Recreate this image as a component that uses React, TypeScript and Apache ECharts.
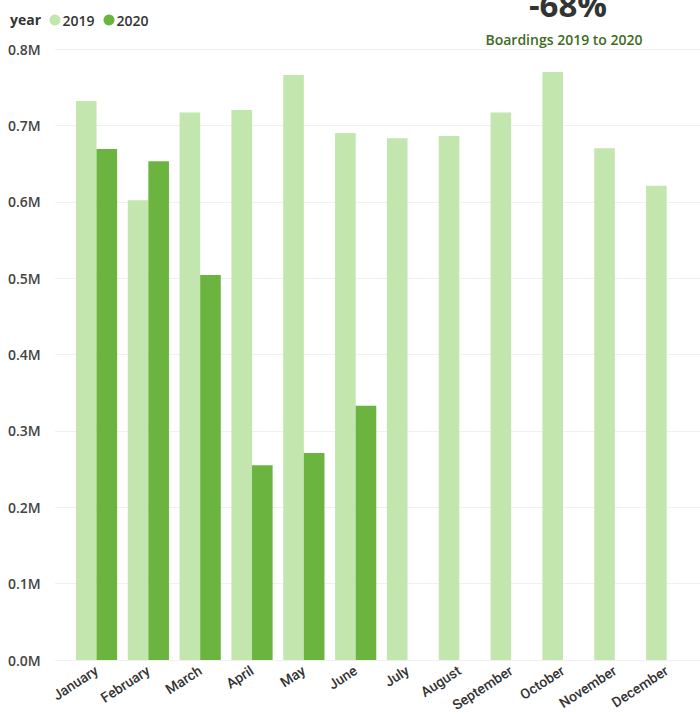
import React, { useEffect, useRef } from "react";
import * as echarts from "echarts";

const months = ["January", "February", "March", "April", "May", "June", "July", "August", "September", "October", "November", "December"];
const boardings2019 = [732000, 602000, 717000, 720000, 766000, 690000, 683000, 686000, 717000, 770000, 670000, 621000];
const boardings2020 = [669000, 653000, 504000, 255000, 271000, 333000, null, null, null, null, null, null];
const yTicks = [0, 100000, 200000, 300000, 400000, 500000, 600000, 700000, 800000];
const kpiText = "-68%";
const kpiLabel = "Boardings 2019 to 2020";

const FONT = "'Open Sans', 'Noto Sans', sans-serif";
const AXFONT = "Roboto, 'Open Sans', sans-serif";

export default function App() {
  const ref = useRef<HTMLDivElement>(null);
  useEffect(() => {
    if (!ref.current) return;
    const chart = echarts.init(ref.current, null, { renderer: "svg" });
    const yMax = yTicks[yTicks.length - 1];
    chart.setOption({
      animation: false,
      backgroundColor: "#ffffff",
      textStyle: { fontFamily: FONT },
      title: {
        text: "year",
        left: 10,
        top: 12,
        padding: 0,
        textStyle: { fontSize: 14, fontWeight: 700, color: "#333333", fontFamily: FONT },
      },
      legend: {
        left: 49.5,
        top: 13,
        icon: "circle",
        itemWidth: 11,
        itemHeight: 11,
        itemGap: 9,
        padding: 0,
        textStyle: { fontSize: 14, fontWeight: 600, color: "#333333", fontFamily: FONT, padding: [0, 0, 0, -3] },
        data: ["2019", "2020"],
      },
      graphic: [
        {
          type: "text",
          x: 568,
          y: 4,
          style: {
            text: kpiText,
            fill: "#333333",
            font: `700 33px ${FONT}`,
            textAlign: "center",
            textVerticalAlign: "middle",
          },
        },
        {
          type: "text",
          x: 564,
          y: 39,
          style: {
            text: kpiLabel,
            fill: "#3e6b22",
            font: `600 14px ${FONT}`,
            textAlign: "center",
            textVerticalAlign: "middle",
          },
        },
      ],
      grid: [
        { left: 70.6, right: 7.4, top: 49, bottom: 56, containLabel: false, outerBoundsMode: "none" },
        { left: 55, right: 0, top: 49, bottom: 56, containLabel: false, outerBoundsMode: "none" },
      ],
      xAxis: [
        {
          type: "category",
          gridIndex: 0,
          data: months,
          axisLine: { show: false },
          axisTick: { show: false },
          axisLabel: {
            rotate: 33,
            interval: 0,
            margin: 9,
            fontSize: 14,
            fontWeight: 500,
            color: "#333333",
            fontFamily: AXFONT,
          },
        },
        {
          type: "value",
          gridIndex: 1,
          min: 0,
          max: 1,
          show: false,
        },
      ],
      yAxis: [
        {
          type: "value",
          gridIndex: 0,
          min: 0,
          max: yMax,
          interval: 100000,
          axisLabel: { show: false },
          splitLine: { show: false },
          axisLine: { show: false },
          axisTick: { show: false },
        },
        {
          type: "value",
          gridIndex: 1,
          min: 0,
          max: yMax,
          interval: 100000,
          axisLine: { show: false },
          axisTick: { show: false },
          splitLine: { show: true, lineStyle: { color: "#f0f0f0", width: 1 } },
          axisLabel: {
            align: "left",
            margin: 47,
            fontSize: 14,
            fontWeight: 600,
            color: "#444444",
            fontFamily: FONT,
            formatter: (v: number) => (v / 1000000).toFixed(1) + "M",
          },
        },
      ],
      series: [
        {
          name: "2019",
          type: "bar",
          xAxisIndex: 0,
          yAxisIndex: 0,
          data: boardings2019,
          barWidth: 20.6,
          barGap: "0%",
          itemStyle: { color: "#c2e6ae" },
          z: 3,
        },
        {
          name: "2020",
          type: "bar",
          xAxisIndex: 0,
          yAxisIndex: 0,
          data: boardings2020,
          barWidth: 20.6,
          barGap: "0%",
          itemStyle: { color: "#6bb43f" },
          z: 3,
        },
      ],
    });
    return () => chart.dispose();
  }, []);
  return <div ref={ref} style={{ width: 700, height: 716, position: "absolute", left: 0, top: 0 }} />;
}
